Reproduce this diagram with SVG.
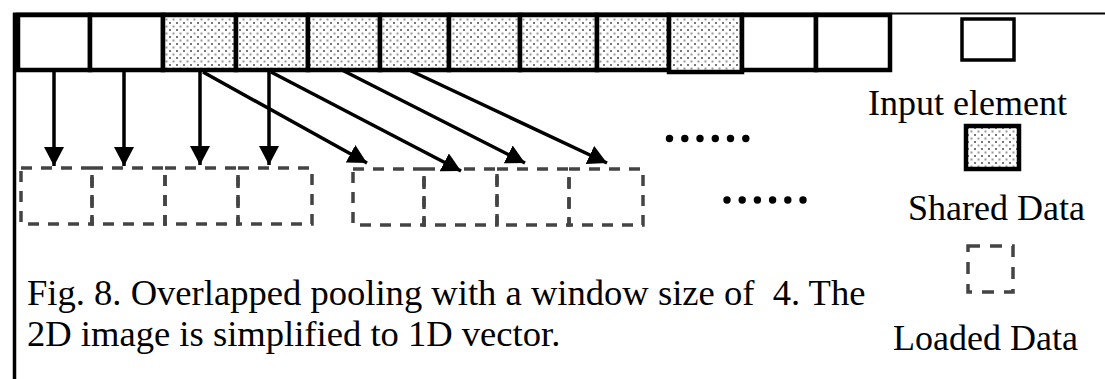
<svg xmlns="http://www.w3.org/2000/svg" width="1105" height="379" viewBox="0 0 1105 379">
<defs>
<pattern id="dots" width="7" height="7" patternUnits="userSpaceOnUse">
<rect width="7" height="7" fill="#ffffff"/>
<rect x="1" y="1" width="2" height="2" fill="#777777"/>
<rect x="4.5" y="4.5" width="2" height="2" fill="#999999"/>
</pattern>
<marker id="ah" markerUnits="userSpaceOnUse" markerWidth="20" markerHeight="20" viewBox="0 0 18 18" refX="17" refY="9" orient="auto">
<path d="M0,0 L17,9 L0,18 Z" fill="#000"/>
</marker>
<style>
.cell{fill:#fff;stroke:#000;stroke-width:4.5}
.sh{fill:url(#dots);stroke:#000;stroke-width:4.5}
.ld{fill:none;stroke:#444;stroke-width:3.5;stroke-dasharray:11 9}
.arr{stroke:#000;stroke-width:3.5;fill:none;marker-end:url(#ah)}
.t{font-family:"Liberation Serif","Times New Roman",serif;font-size:36px;fill:#000}
.cap{font-size:36.6px}
.dot{fill:#000}
</style>
</defs>
<rect width="1105" height="379" fill="#fff"/>
<g id="frame">
<line x1="14.5" y1="13" x2="14.5" y2="379" stroke="#000" stroke-width="3.5"/>
<line x1="13" y1="13.5" x2="1105" y2="13.5" stroke="#000" stroke-width="2"/>
</g>
<g id="input-row">
<rect id="in1" class="cell" x="18" y="15" width="72" height="55"/>
<rect id="in2" class="cell" x="90" y="15" width="73" height="55"/>
<rect id="in3" class="sh" x="163" y="15" width="73" height="55"/>
<rect id="in4" class="sh" x="236" y="15" width="72" height="55"/>
<rect id="in5" class="sh" x="308" y="15" width="72" height="55"/>
<rect id="in6" class="sh" x="380" y="15" width="69" height="55"/>
<rect id="in7" class="sh" x="449" y="15" width="71" height="55"/>
<rect id="in8" class="sh" x="520" y="15" width="77" height="55"/>
<rect id="in9" class="sh" x="597" y="15" width="72" height="55"/>
<rect id="in10" class="sh" x="669" y="15" width="73" height="57"/>
<rect id="in11" class="cell" x="742" y="15" width="74" height="55"/>
<rect id="in12" class="cell" x="816" y="15" width="74" height="55"/>
</g>
<g id="loaded-group-1">
<rect class="ld" x="21" y="168" width="71" height="56"/>
<rect class="ld" x="92" y="168" width="73" height="56"/>
<rect class="ld" x="165" y="168" width="73" height="56"/>
<rect class="ld" x="238" y="168" width="74" height="56"/>
</g>
<g id="loaded-group-2">
<rect class="ld" x="353" y="169" width="71" height="56"/>
<rect class="ld" x="424" y="169" width="73" height="56"/>
<rect class="ld" x="497" y="169" width="72" height="56"/>
<rect class="ld" x="569" y="169" width="74" height="56"/>
</g>
<g id="connectors">
<line class="arr" x1="54" y1="72" x2="54" y2="166"/>
<line class="arr" x1="124" y1="72" x2="124" y2="166"/>
<line class="arr" x1="200" y1="72" x2="200" y2="165"/>
<line class="arr" x1="269" y1="72" x2="269" y2="165"/>
<line class="arr" x1="203" y1="72" x2="367" y2="163"/>
<line class="arr" x1="271" y1="72" x2="461" y2="171"/>
<line class="arr" x1="340" y1="69" x2="525" y2="163"/>
<line class="arr" x1="407" y1="69" x2="607" y2="163"/>
</g>
<g id="ellipsis-1">
<circle class="dot" cx="669.5" cy="138.5" r="3.7"/>
<circle class="dot" cx="684.8" cy="138.5" r="3.7"/>
<circle class="dot" cx="700" cy="138.5" r="3.7"/>
<circle class="dot" cx="715.3" cy="138.5" r="3.7"/>
<circle class="dot" cx="730.5" cy="138.5" r="3.7"/>
<circle class="dot" cx="745.8" cy="138.5" r="3.7"/>
</g>
<g id="ellipsis-2">
<circle class="dot" cx="727" cy="200" r="3.7"/>
<circle class="dot" cx="742.2" cy="200" r="3.7"/>
<circle class="dot" cx="757.4" cy="200" r="3.7"/>
<circle class="dot" cx="772.6" cy="200" r="3.7"/>
<circle class="dot" cx="787.8" cy="200" r="3.7"/>
<circle class="dot" cx="803" cy="200" r="3.7"/>
</g>
<g id="legend-input">
<rect class="cell" x="962" y="19" width="52" height="41" style="stroke-width:3.5"/>
<text class="t" x="868" y="115">Input element</text>
</g>
<g id="legend-shared">
<rect class="sh" x="966" y="126" width="53" height="43"/>
<text class="t" x="908" y="220">Shared Data</text>
</g>
<g id="legend-loaded">
<rect class="ld" x="968" y="246" width="45" height="46" style="stroke-dasharray:12 10"/>
<text class="t" x="893" y="350">Loaded Data</text>
</g>
<g id="caption">
<text class="t cap" x="27" y="305" xml:space="preserve">Fig. 8. Overlapped pooling with a window size of  4. The</text>
<text class="t cap" x="27" y="346">2D image is simplified to 1D vector.</text>
</g>
</svg>
